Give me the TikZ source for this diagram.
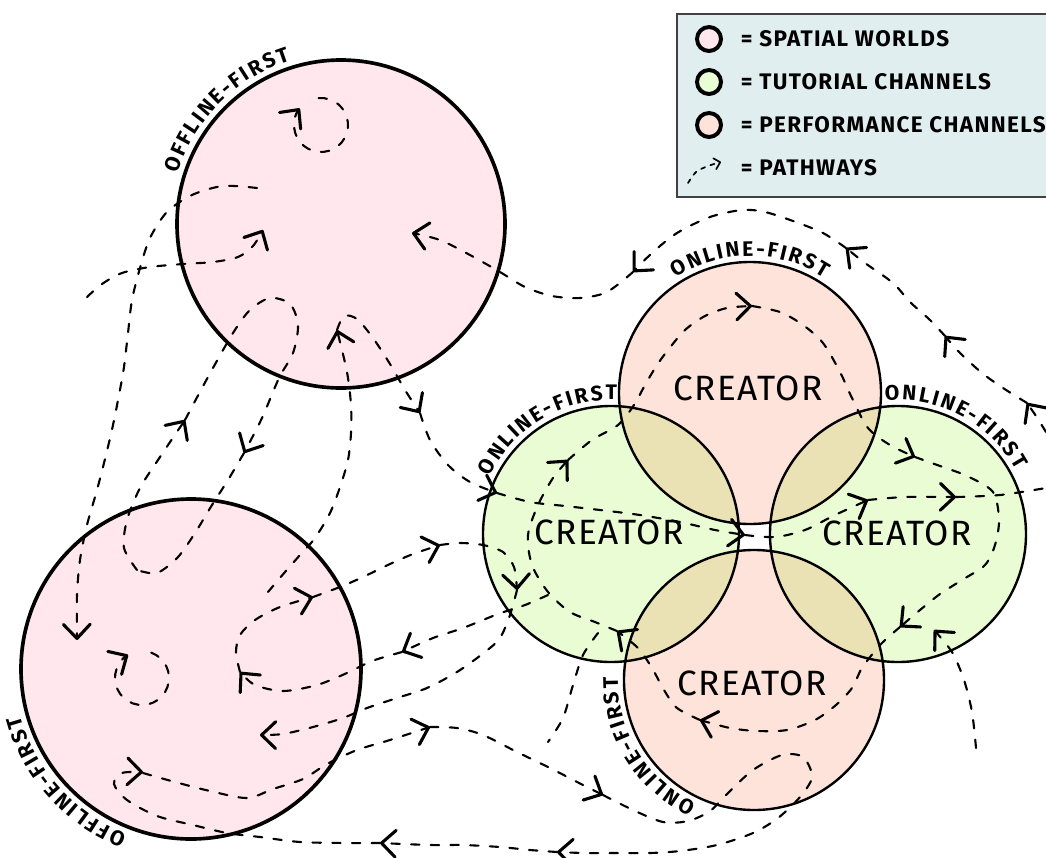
\documentclass[tikz,border=0pt]{standalone}
\usepackage{fontspec}
\setmainfont{Fira Sans}
\usetikzlibrary{arrows.meta,decorations.text}

\definecolor{worldpink}{RGB}{255,231,237}
\definecolor{tutorgreen}{RGB}{234,252,212}
\definecolor{showpeach}{RGB}{253,227,217}
\definecolor{overlap}{RGB}{234,226,180}
\definecolor{keybg}{RGB}{225,238,239}

% bold labels round the circles, with a narrow gap between letters
\newcommand\arcfont{\fontsize{15}{17}\selectfont\bfseries\fontdimen2\font=1.6pt}

\tikzset{
  trail/.style={line width=1.5pt, dash pattern=on 6pt off 8pt, line cap=round},
  headed/.style={-{Straight Barb[length=10pt,width=19pt,line width=2.2pt,round]}},
  creator/.style={font=\fontsize{25}{25}\selectfont\addfontfeature{LetterSpace=4}},
  keytext/.style={anchor=west, font=\fontsize{16}{18}\selectfont\bfseries\addfontfeature{LetterSpace=6}},
  arclabel/.style={decorate, decoration={text along path, text align=center, text={|\arcfont|#1}}}
}

\begin{document}
\begin{tikzpicture}[x=0.025cm, y=-0.025cm]
\path[fill=white] (0,0) rectangle (1046,857);
\useasboundingbox (0,0) rectangle (1046,857);

% key
\draw[line width=1.1pt, draw=black!75, fill=keybg] (677,14) rectangle (1060,197);
\foreach \y/\col/\txt in {39/worldpink/SPATIAL WORLDS, 82/tutorgreen/TUTORIAL CHANNELS, 125/showpeach/PERFORMANCE CHANNELS}{
  \draw[line width=2.8pt, fill=\col] (709,\y) circle[radius=12];
  \node[keytext] (key\y) at (736,\y) {= \txt};
}
\draw[trail, line width=1.2pt, dash pattern=on 3pt off 4pt, -{Straight Barb[length=4pt,width=8pt,round]}]
  plot[smooth] coordinates {(688,183) (696,172) (708,166) (721,162)};
\node[keytext] (key168) at (736,168) {= PATHWAYS};

% worlds and channels
\coordinate (w1) at (341,224);
\coordinate (w2) at (191,669);
\coordinate (ptop) at (750,393);
\coordinate (pbot) at (754,680);
\coordinate (gleft) at (611,534);
\coordinate (gright) at (898,534);
\coordinate (l1) at (321,125);
\coordinate (l2) at (142,678);

\fill[worldpink] (w1) circle[radius=164] (w2) circle[radius=170];
\fill[tutorgreen] (gleft) circle[radius=128] (gright) circle[radius=128];
\fill[showpeach] (ptop) circle[radius=131] (pbot) circle[radius=130];
\foreach \p/\r in {ptop/131, pbot/130}{
  \begin{scope}
    \clip (\p) circle[radius=\r];
    \fill[overlap] (gleft) circle[radius=128] (gright) circle[radius=128];
  \end{scope}
}
\draw[line width=2.6pt] (w1) circle[radius=164] (w2) circle[radius=170];
\draw[line width=1.7pt] (gleft) circle[radius=128] (gright) circle[radius=128]
  (ptop) circle[radius=131] (pbot) circle[radius=130];

% pathways inside the worlds
\draw[trail,headed] ([shift={(-95:27)}]l1) arc[start angle=-95, end angle=218, radius=27];
\draw[trail,headed] ([shift={(-70:27)}]l2) arc[start angle=-70, end angle=239, radius=27];
\draw[trail,headed] plot[smooth] coordinates {(87,297) (102,284) (122,273) (150,267) (183,264) (213,262) (238,257) (253,246) (263,230)};
\draw[trail,headed] plot[smooth] coordinates {(257,188) (223,186) (192,195) (167,212) (150,238) (140,268) (132,300) (128,333) (124,367) (119,395) (113,425) (106,455) (97,490) (87,525) (80,560) (77,595) (77,640)};

% loop between the two worlds
\draw[trail,headed] plot[smooth] coordinates {(137,570) (124,548) (127,520) (140,488) (160,457) (185,420)};
\draw[trail,headed] plot[smooth] coordinates {(185,420) (208,377) (233,333) (250,310) (270,298) (290,304) (298,325) (293,353) (279,378) (262,418) (244,453)};
\draw[trail] plot[smooth] coordinates {(244,453) (228,480) (212,505) (195,533) (178,557) (157,573) (137,570)};

% from the lower world up and across the channels
\draw[trail,headed] plot[smooth] coordinates {(268,592) (285,572) (300,555) (315,538) (330,513) (340,487) (348,460) (351,433) (351,405) (347,372) (337,330)};
\draw[trail,headed] plot[smooth] coordinates {(337,330) (344,316) (357,319) (373,338) (390,364) (405,390) (420,413)};
\draw[trail,headed] plot[smooth] coordinates {(420,413) (430,440) (448,465) (470,482) (497,493)};
\draw[trail,headed] plot[smooth] coordinates {(497,493) (530,502) (565,506) (600,510) (640,515) (680,522) (715,530) (745,535)};
\draw[trail,headed] plot[smooth] coordinates {(745,535) (775,537) (805,530) (835,515) (868,500)};
\draw[trail,headed] plot[smooth] coordinates {(868,500) (905,497) (956,497)};
\draw[trail] plot[smooth] coordinates {(956,497) (1000,495) (1046,488)};

% long way back to the upper world
\draw[trail,headed] plot[smooth] coordinates {(1046,432) (1036,416) (1027,403)};
\draw[trail,headed] plot[smooth] coordinates {(1027,403) (1003,388) (982,373) (960,353) (945,336)};
\draw[trail,headed] plot[smooth] coordinates {(945,336) (930,320) (910,302) (893,283) (865,263) (846,248)};
\draw[trail,headed] plot[smooth] coordinates {(846,248) (823,233) (793,221) (765,212) (742,210) (710,217) (677,233) (652,253) (633,272)};
\draw[trail,headed] plot[smooth] coordinates {(633,272) (607,292) (580,298) (552,296) (525,287) (500,272) (470,255) (440,240) (412,233)};

% round the four creators
\draw[trail,headed] plot[smooth] coordinates {(617,631) (595,622) (570,612) (548,592) (532,565) (528,535) (538,505) (553,478) (568,460)};
\draw[trail,headed] plot[smooth] coordinates {(568,460) (592,440) (618,425) (634,405) (645,385) (657,365) (668,350) (685,330) (705,316) (727,308) (752,306)};
\draw[trail,headed] plot[smooth] coordinates {(752,306) (780,312) (803,325) (823,343) (840,372) (852,398) (868,428) (890,445) (915,457)};
\draw[trail,headed] plot[smooth] coordinates {(915,457) (940,466) (967,476) (993,492) (999,520) (995,545) (985,565) (962,580) (940,594) (920,610) (900,627)};
\draw[trail,headed] plot[smooth] coordinates {(900,627) (880,645) (862,668) (852,688) (836,705) (815,720) (787,730) (757,731) (730,728) (700,720)};
\draw[trail,headed] plot[smooth] coordinates {(700,720) (677,708) (664,690) (652,668) (638,648) (617,631)};
\draw[trail,headed] plot[smooth] coordinates {(976,748) (972,712) (964,680) (952,652) (934,630)};
\draw[trail] plot[smooth] coordinates {(598,633) (583,655) (573,685) (563,718) (548,742)};

% between the lower world and the left channel
\draw[trail,headed] plot[smooth] coordinates {(548,595) (525,605) (498,614) (463,628) (433,638) (402,652)};
\draw[trail,headed] plot[smooth] coordinates {(402,652) (372,661) (347,673) (317,685) (283,691) (255,685) (240,672)};
\draw[trail,headed] plot[smooth] coordinates {(240,672) (236,652) (240,635) (255,620) (280,607) (313,597)};
\draw[trail,headed] plot[smooth] coordinates {(313,597) (340,587) (363,577) (390,564) (413,554) (440,545)};
\draw[trail,headed] plot[smooth] coordinates {(440,545) (460,543) (483,545) (503,552) (514,567) (517,590)};
\draw[trail,headed] plot[smooth] coordinates {(517,590) (510,615) (500,638) (485,652) (457,672) (427,688) (397,698) (367,708) (343,718) (313,727) (283,734) (260,735)};

% bottom loop
\draw[trail,headed] plot[smooth] coordinates {(143,773) (175,782) (210,791) (247,798) (273,789) (303,779) (327,764) (357,750) (390,740) (430,727)};
\draw[trail,headed] plot[smooth] coordinates {(430,727) (457,728) (483,735) (517,752) (550,768) (583,785) (603,795)};
\draw[trail,headed] plot[smooth] coordinates {(603,795) (633,810) (663,822) (688,821) (710,811) (728,793) (753,770) (782,755) (803,757) (812,777) (800,797) (778,818) (753,833) (717,845) (680,851) (650,853) (620,853) (585,853) (557,852)};
\draw[trail,headed] plot[smooth] coordinates {(557,852) (530,850) (500,847) (463,845) (430,845) (380,843)};
\draw[trail,headed] plot[smooth] coordinates {(380,843) (347,843) (300,842) (260,837) (227,833) (193,825) (157,816) (127,800) (114,784) (122,773) (143,772)};

% names
\node[creator] (ctop) at (748,388) {CREATOR};
\node[creator] (cleft) at (609,532) {CREATOR};
\node[creator] (cright) at (897,533) {CREATOR};
\node[creator] (cbot) at (752,683) {CREATOR};

\path[arclabel={O F F L I N E - F I R S T}] ([shift={(-178:171)}]w1) arc[start angle=-178, end angle=-92, radius=171];
\path[arclabel={O F F L I N E - F I R S T}] ([shift={(-265:177)}]w2) arc[start angle=-265, end angle=-179, radius=177];
\path[arclabel={O N L I N E - F I R S T}] ([shift={(-135:137)}]ptop) arc[start angle=-135, end angle=-45, radius=137];
\path[arclabel={O N L I N E - F I R S T}] ([shift={(-166:134)}]gleft) arc[start angle=-166, end angle=-76, radius=134];
\path[arclabel={O N L I N E - F I R S T}] ([shift={(-107:134)}]gright) arc[start angle=-107, end angle=-17, radius=134];
\path[arclabel={O N L I N E - F I R S T}] ([shift={(-257:136)}]pbot) arc[start angle=-257, end angle=-167, radius=136];
\end{tikzpicture}
\end{document}
